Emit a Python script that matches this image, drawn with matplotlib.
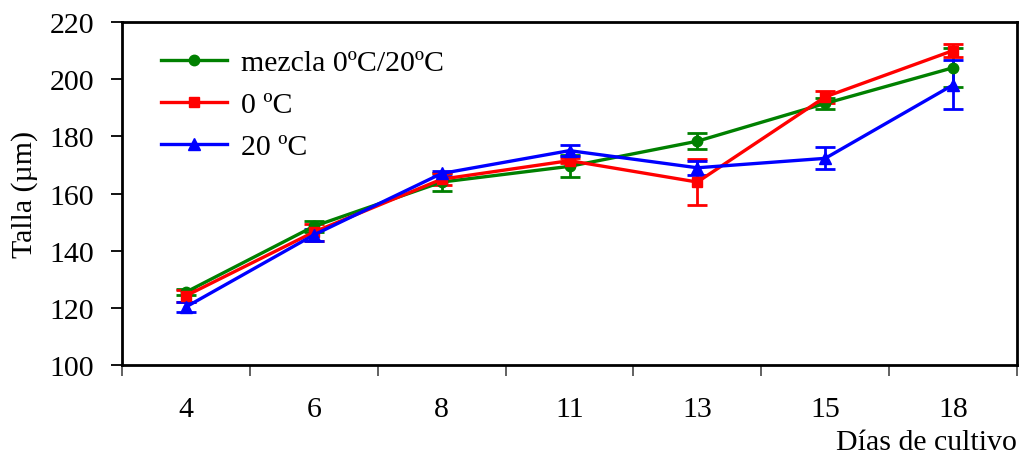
import matplotlib
matplotlib.use("Agg")
import matplotlib.pyplot as plt
from matplotlib.lines import Line2D
import numpy as np

days = ["4", "6", "8", "11", "13", "15", "18"]
mezcla = [125.5, 148.5, 164.0, 169.5, 178.3, 191.5, 204.0]
mezcla_err = [1.0, 2.0, 3.0, 3.8, 2.8, 1.9, 6.9]
c0 = [124.2, 146.5, 165.0, 171.5, 164.0, 193.8, 210.0]
c0_err = [2.0, 3.0, 2.0, 1.0, 8.0, 2.0, 2.3]
c20 = [120.3, 145.5, 167.0, 175.0, 169.0, 172.3, 198.0]
c20_err = [1.7, 2.0, 1.0, 2.0, 2.5, 3.8, 8.6]
labels = ["mezcla 0ºC/20ºC", "0 ºC", "20 ºC"]

plt.rcParams['font.family'] = ['Liberation Serif', 'DejaVu Serif']
FS = 21.5
fig = plt.figure(figsize=(10.22, 4.56), dpi=100)
ax = fig.add_axes([122/1022, 1-366/456, (1017-122)/1022, (366-23)/456])

x = np.arange(len(days))
series = [(mezcla, mezcla_err, '#008000', 'o', 7.5),
          (c0, c0_err, '#ff0000', 's', 7.5),
          (c20, c20_err, '#0000ff', '^', 8.5)]
handles = []
for (vals, err, col, mk, ms), lab in zip(series, labels):
    ax.errorbar(x, vals, yerr=err, color=col, marker=mk, markersize=ms,
                linewidth=2.4, elinewidth=2.0, capsize=7, capthick=2.0)
    handles.append(Line2D([], [], color=col, marker=mk, markersize=ms,
                          linewidth=2.4, label=lab))

ax.set_xlim(-0.5, len(days) - 0.5)
ax.set_ylim(100, 220)
ax.set_yticks(np.arange(100, 221, 20))
ax.set_xticks(x)
ax.set_xticklabels(days)
ax.tick_params(axis='x', which='major', length=0, pad=22, labelsize=FS)
ax.set_xticks(np.arange(-0.5, len(days), 1.0), minor=True)
ax.tick_params(axis='x', which='minor', length=8, width=1.3, color='#555555', direction='out')
ax.tick_params(axis='y', length=8, width=1.3, direction='out', labelsize=FS, pad=12)
for s in ax.spines.values():
    s.set_linewidth(2.0)

ax.set_ylabel("Talla (µm)", fontsize=FS, labelpad=8)
fig.text(1017/1022, 1-450/456, "Días de cultivo", ha='right', va='baseline', fontsize=FS)

leg = ax.legend(handles=handles, loc='upper left', bbox_to_anchor=(0.044, 0.92),
                frameon=False, fontsize=FS, handlelength=2.2, handletextpad=0.45,
                labelspacing=0.5, borderaxespad=0.0, borderpad=0.0)

fig.savefig("out.png", dpi=100)
